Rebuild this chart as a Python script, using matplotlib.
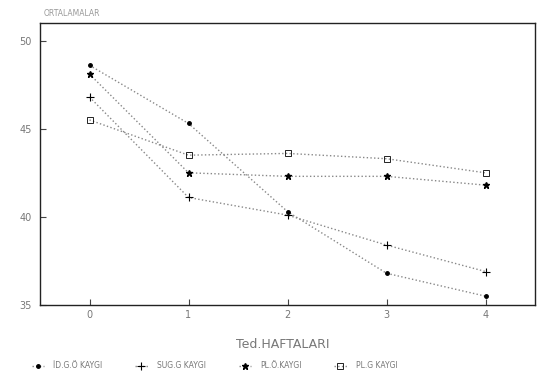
import numpy as np
import matplotlib.pyplot as plt

# weekly mean scores
weeks = [0, 1, 2, 3, 4]
id_go = [48.6, 45.3, 40.3, 36.8, 35.5]
sug_g = [46.8, 41.1, 40.1, 38.4, 36.9]
pl_o = [48.1, 42.5, 42.3, 42.3, 41.8]
pl_g = [45.5, 43.5, 43.6, 43.3, 42.5]

labels = ["İD.G.Ö KAYGI", "SUG.G KAYGI", "PL.Ö.KAYGI", "PL.G KAYGI"]
yticks = [35, 40, 45, 50]

fig = plt.figure(figsize=(5.39, 3.89), dpi=100)
ax = fig.add_axes([40/539, 1-305/389, 495/539, 282/389])

line_kw = dict(color='#888888', linestyle=':', linewidth=1.0, markeredgecolor='black')
ax.plot(weeks, id_go, marker='.', markersize=5, markerfacecolor='black', label=labels[0], **line_kw)
ax.plot(weeks, sug_g, marker='+', markersize=6, markeredgewidth=0.8, label=labels[1], **line_kw)
ax.plot(weeks, pl_o, marker='*', markersize=5, markerfacecolor='black', label=labels[2], **line_kw)
ax.plot(weeks, pl_g, marker='s', markersize=4, markerfacecolor='none', markeredgewidth=0.6,
        label=labels[3], **line_kw)

ax.set_xlim(-0.5, 4.5)
ax.set_ylim(35, 51)
ax.set_xticks(weeks)
ax.set_yticks(yticks)
ax.tick_params(direction='in', length=4, width=0.8, labelsize=7, colors='#444444',
               labelcolor='#777777')
ax.tick_params(axis='y', pad=6)
for s in ax.spines.values():
    s.set_linewidth(1.0)
    s.set_color('#222222')

fig.text(44/539, 1-13/389, "ORTALAMALAR", fontsize=5.5, color='#999999', va='center')
fig.text(283/539, 1-345/389, "Ted.HAFTALARI", fontsize=9, color='#777777', ha='center', va='center')

fig.legend(loc='center left', bbox_to_anchor=(25/539, 1-366/389), ncol=4, frameon=False,
           fontsize=5.5, handlelength=1.6, columnspacing=4.3, handletextpad=1.2,
           labelcolor='#777777')

fig.savefig("out.png", dpi=100)
